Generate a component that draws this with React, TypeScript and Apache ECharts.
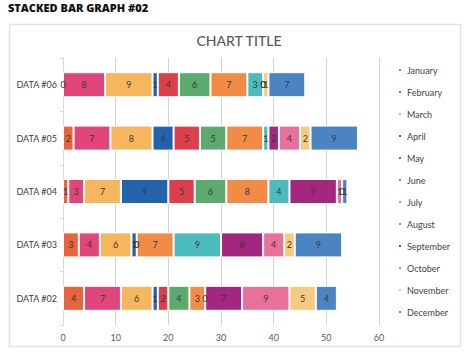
import React, { useEffect, useRef } from "react";
import * as echarts from "echarts";

const categories = ["DATA #02", "DATA #03", "DATA #04", "DATA #05", "DATA #06"];
const months = [
  "January", "February", "March", "April", "May", "June",
  "July", "August", "September", "October", "November", "December",
];
// values per month, ordered as categories (#02 .. #06)
const january = [4, 3, 1, 2, 0];
const february = [7, 4, 3, 7, 8];
const march = [6, 6, 7, 8, 9];
const april = [1, 1, 9, 4, 1];
const may = [2, 0, 5, 5, 4];
const june = [4, 0, 6, 5, 6];
const july = [3, 7, 8, 7, 7];
const august = [0, 9, 4, 1, 3];
const september = [7, 8, 9, 2, 0];
const october = [9, 4, 1, 4, 0];
const november = [5, 2, 0, 2, 1];
const december = [4, 9, 1, 9, 7];
const seriesValues = [
  january, february, march, april, may, june,
  july, august, september, october, november, december,
];
const colors = [
  "#E8643C", "#E0457B", "#F6B65E", "#2363AC", "#DC3F4A", "#5DA970",
  "#F28B45", "#4CBBBE", "#A3277F", "#E9709B", "#F7CB7F", "#4A84C2",
];
const xTicks = { min: 0, max: 60, interval: 10 };

const FONT = "Lato, 'Noto Sans', sans-serif";

export default function App() {
  const ref = useRef<HTMLDivElement>(null);
  useEffect(() => {
    if (!ref.current) return;
    const chart = echarts.init(ref.current, undefined, { renderer: "svg" });
    chart.setOption({
      animation: false,
      backgroundColor: "#ffffff",
      textStyle: { fontFamily: FONT },
      graphic: [
        {
          type: "rect",
          shape: { x: 9.5, y: 24.5, width: 451, height: 322 },
          style: { fill: "none", stroke: "#e2e2e2", lineWidth: 1.5 },
          silent: true,
        },
        {
          type: "text",
          left: 8,
          top: 2,
          style: {
            text: "STACKED BAR GRAPH #02",
            fontSize: 11,
            fontWeight: 800,
            fill: "#111111",
            fontFamily: "'Open Sans', Lato, sans-serif",
          },
        },
      ],
      title: {
        text: "CHART TITLE",
        left: 234,
        top: 28,
        textAlign: "center",
        textStyle: { fontSize: 14, fontWeight: 500, color: "#595959", fontFamily: FONT },
      },
      legend: {
        orient: "vertical",
        left: 392,
        top: 59,
        itemWidth: 4,
        itemHeight: 4,
        itemGap: 10,
        icon: "rect",
        data: months,
        textStyle: { fontSize: 9, color: "#444444", lineHeight: 12, fontFamily: FONT },
      },
      grid: { left: 63, right: 95, top: 58, bottom: 32, containLabel: false },
      xAxis: {
        type: "value",
        min: xTicks.min,
        max: xTicks.max,
        interval: xTicks.interval,
        axisLine: { show: false },
        axisTick: { show: false },
        axisLabel: { fontSize: 9, color: "#595959", margin: 8, fontFamily: FONT },
        splitLine: { lineStyle: { color: "#d3d3d3", width: 1 } },
      },
      yAxis: {
        type: "category",
        data: categories,
        axisLine: { show: true, lineStyle: { color: "#d9d9d9" } },
        axisTick: { show: true, length: 3, lineStyle: { color: "#d9d9d9" } },
        axisLabel: { fontSize: 9, color: "#404040", margin: 6, fontFamily: FONT },
      },
      series: months.map((m, i) => ({
        name: m,
        type: "bar",
        stack: "total",
        barWidth: 25,
        data: seriesValues[i],
        itemStyle: { color: colors[i], borderColor: "#ffffff", borderWidth: 1 },
        label: {
          show: true,
          position: "inside",
          fontSize: 9,
          color: "#3a3a3a",
          fontFamily: FONT,
        },
      })),
    });
    return () => chart.dispose();
  }, []);
  return (
    <div
      ref={ref}
      style={{ position: "fixed", left: 0, top: 0, width: 474, height: 357 }}
    />
  );
}
